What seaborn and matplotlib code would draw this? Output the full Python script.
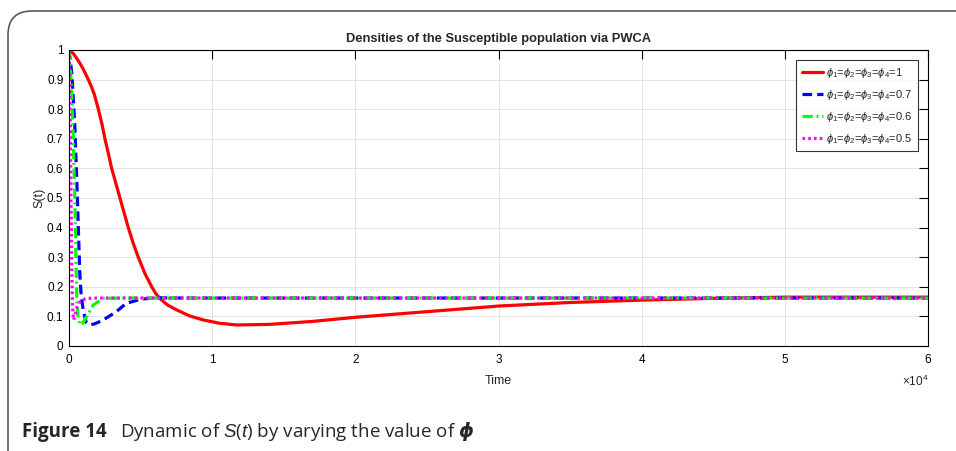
import numpy as np
import pandas as pd
import matplotlib
matplotlib.use("Agg")
import matplotlib.pyplot as plt
import seaborn as sns
from matplotlib.patches import FancyBboxPatch

# ---- data (time in units of 1e4) ----
t_red = [0, 0.03, 0.054, 0.08, 0.1, 0.12, 0.135, 0.155, 0.177, 0.205, 0.23, 0.251, 0.275, 0.298, 0.327,
         0.356, 0.385, 0.414, 0.45, 0.484, 0.53, 0.578, 0.605, 0.636, 0.69, 0.752, 0.84, 0.938, 1.05,
         1.171, 1.4, 1.7, 2.0, 2.5, 2.87, 3.0, 3.5, 4.0, 4.5, 5.0, 5.5, 6.0]
s_red = [1.0, 0.988, 0.972, 0.952, 0.935, 0.915, 0.9, 0.878, 0.85, 0.8, 0.75, 0.7, 0.65, 0.6, 0.55,
         0.5, 0.45, 0.4, 0.345, 0.3, 0.245, 0.2, 0.178, 0.16, 0.138, 0.122, 0.102, 0.088, 0.077,
         0.071, 0.073, 0.083, 0.097, 0.116, 0.13, 0.135, 0.147, 0.155, 0.161, 0.165, 0.165, 0.165]

t_blue = [0, 0.02, 0.04, 0.055, 0.065, 0.075, 0.085, 0.1, 0.12, 0.145, 0.18, 0.24, 0.33, 0.4,
          0.5, 0.6, 0.8, 2.0, 4.0, 6.0]
s_blue = [1.0, 0.92, 0.75, 0.55, 0.4, 0.25, 0.17, 0.12, 0.08, 0.071, 0.075, 0.088, 0.116, 0.144,
          0.158, 0.163, 0.162, 0.162, 0.162, 0.162]

t_green = [0, 0.015, 0.03, 0.04, 0.048, 0.055, 0.065, 0.077, 0.1, 0.13, 0.17, 0.24, 0.35, 2.0, 4.0, 6.0]
s_green = [1.0, 0.9, 0.7, 0.5, 0.3, 0.15, 0.09, 0.071, 0.08, 0.105, 0.139, 0.161, 0.162, 0.162, 0.162, 0.162]

t_mag = [0, 0.005, 0.01, 0.015, 0.02, 0.025, 0.032, 0.042, 0.055, 0.07, 0.09, 0.125, 0.2, 2.0, 4.0, 6.0]
s_mag = [1.0, 0.9, 0.7, 0.45, 0.25, 0.13, 0.088, 0.105, 0.13, 0.145, 0.155, 0.161, 0.162, 0.162, 0.162, 0.162]

labels = [r"$\phi_1$=$\phi_2$=$\phi_3$=$\phi_4$=1",
          r"$\phi_1$=$\phi_2$=$\phi_3$=$\phi_4$=0.7",
          r"$\phi_1$=$\phi_2$=$\phi_3$=$\phi_4$=0.6",
          r"$\phi_1$=$\phi_2$=$\phi_3$=$\phi_4$=0.5"]
xtick_vals = [0, 1, 2, 3, 4, 5, 6]
xtick_labels = ["0", "1", "2", "3", "4", "5", "6"]
ytick_vals = [0, 0.1, 0.2, 0.3, 0.4, 0.5, 0.6, 0.7, 0.8, 0.9, 1.0]
ytick_labels = ["0", "0.1", "0.2", "0.3", "0.4", "0.5", "0.6", "0.7", "0.8", "0.9", "1"]

series = [(t_red, s_red), (t_blue, s_blue), (t_green, s_green), (t_mag, s_mag)]
colors = ["#ff0000", "#0000ff", "#00ff00", "#ff00ff"]
styles = ["-", (0, (3.0, 1.6)), (0, (3.2, 1.2, 0.6, 1.2)), (0, (0.8, 1.0))]

sns.set_theme(style="white")
plt.rcParams["font.family"] = ["Liberation Sans", "DejaVu Sans"]
plt.rcParams["mathtext.fontset"] = "custom"
plt.rcParams["mathtext.it"] = "Liberation Sans:italic"
plt.rcParams["mathtext.rm"] = "Liberation Sans"

W, H = 956, 451
fig = plt.figure(figsize=(W / 100, H / 100), dpi=100)
fig.patch.set_facecolor("white")

# card border
card = FancyBboxPatch((8 / W, -0.2), 1.2, (H - 11) / H + 0.2,
                      boxstyle="round,pad=0,rounding_size=0.025",
                      transform=fig.transFigure, fill=False,
                      edgecolor="#5a5a5a", linewidth=1.2, mutation_aspect=W / H)
fig.add_artist(card)

ax = fig.add_axes([69 / W, (H - 346) / H, (928 - 69) / W, (346 - 50) / H])

for (tx, sy), c, ls, lab in zip(series, colors, styles, labels):
    df = pd.DataFrame({"t": np.array(tx) * 1e4, "S": sy})
    sns.lineplot(data=df, x="t", y="S", ax=ax, color=c, linewidth=2.3,
                 linestyle=ls, label=lab, sort=False)
for ln, ls in zip(ax.get_lines(), styles):
    ln.set_linestyle(ls)
    ln.set_dash_capstyle("butt")

ax.set_xlim(0, 6e4)
ax.set_ylim(0, 1)
ax.set_xticks([v * 1e4 for v in xtick_vals])
ax.set_xticklabels(xtick_labels)
ax.set_yticks(ytick_vals)
ax.set_yticklabels(ytick_labels)
ax.tick_params(direction="in", length=6.5, width=0.8, top=True, right=True,
               labelsize=8.5, colors="black")
ax.tick_params(axis="x", pad=6)
ax.tick_params(axis="y", pad=4)
ax.grid(True, color="#e3e3e3", linewidth=0.7)
for sp in ax.spines.values():
    sp.set_color("black")
    sp.set_linewidth(0.8)

ax.set_xlabel("Time", fontsize=9, labelpad=6)
ax.set_ylabel("S(t)", fontsize=9, labelpad=1)
ax.set_title("Densities of the Susceptible population via PWCA", fontsize=9.3,
             fontweight="bold", pad=6)
ax.text(1.0, -0.095, r"$\times$10$^4$", transform=ax.transAxes, ha="right", va="top",
        fontsize=8.5)

leg = ax.legend(loc="upper right", bbox_to_anchor=((918 - 69) / 859, (346 - 60) / 296),
                fontsize=8, frameon=True, fancybox=False, handlelength=1.9,
                borderaxespad=0, labelspacing=0.72, handletextpad=0.3, borderpad=0.5)
leg.get_frame().set_edgecolor("black")
leg.get_frame().set_linewidth(0.8)

fig.text(22 / W, 1 - 432 / H, "Figure 14", fontsize=13.5, fontweight="bold",
         family=["Open Sans", "DejaVu Sans"], va="center", ha="left")
fig.text(120 / W, 1 - 432 / H, r"Dynamic of $\mathit{S}$($\mathit{t}$) by varying the value of $\boldsymbol{\phi}$",
         fontsize=13.5, family=["Open Sans", "DejaVu Sans"], va="center", ha="left")

fig.savefig("out.png", dpi=100, facecolor="white")
